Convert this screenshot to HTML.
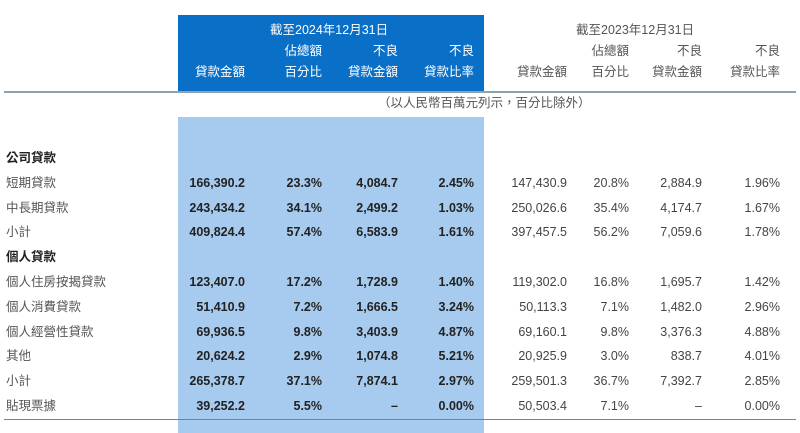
<!DOCTYPE html>
<html><head><meta charset="utf-8"><style>
body{margin:0;width:800px;height:433px;overflow:hidden;background:#fff;font-family:"Liberation Sans","Noto Sans CJK TC",sans-serif;position:relative;color:#333}
.abs{position:absolute;white-space:nowrap;font-size:12.5px;line-height:14px}
.r{text-align:right}
.b{font-weight:bold;color:#222}
</style></head><body>
<div style="position:absolute;left:178px;top:15px;width:306px;height:77px;background:#0a6fc6"></div>
<div style="position:absolute;left:178px;top:117px;width:306px;height:316px;background:#a7cbee"></div>
<div style="position:absolute;left:4px;top:91px;width:792px;height:2px;background:#8fa2ad"></div>
<div style="position:absolute;left:4px;top:419px;width:792px;height:1px;background:#6d8594"></div>
<div id="t"></div>
<script>
const rowLabels=["公司貸款","短期貸款","中長期貸款","小計","個人貸款","個人住房按揭貸款","個人消費貸款","個人經營性貸款","其他","小計","貼現票據"];
const amt2024=["","166,390.2","243,434.2","409,824.4","","123,407.0","51,410.9","69,936.5","20,624.2","265,378.7","39,252.2"];
const pct2024=["","23.3%","34.1%","57.4%","","17.2%","7.2%","9.8%","2.9%","37.1%","5.5%"];
const npl2024=["","4,084.7","2,499.2","6,583.9","","1,728.9","1,666.5","3,403.9","1,074.8","7,874.1","–"];
const rat2024=["","2.45%","1.03%","1.61%","","1.40%","3.24%","4.87%","5.21%","2.97%","0.00%"];
const amt2023=["","147,430.9","250,026.6","397,457.5","","119,302.0","50,113.3","69,160.1","20,925.9","259,501.3","50,503.4"];
const pct2023=["","20.8%","35.4%","56.2%","","16.8%","7.1%","9.8%","3.0%","36.7%","7.1%"];
const npl2023=["","2,884.9","4,174.7","7,059.6","","1,695.7","1,482.0","3,376.3","838.7","7,392.7","–"];
const rat2023=["","1.96%","1.67%","1.78%","","1.42%","2.96%","4.88%","4.01%","2.85%","0.00%"];
const t=document.getElementById('t');
function add(txt,x,y,cls,color,right,name){
 const d=document.createElement('div');
 d.className='abs '+cls;
 d.textContent=txt;
 if(right){d.style.right=(800-x)+'px';}else{d.style.left=x+'px';}
 d.style.top=y+'px';
 if(color)d.style.color=color;
 
 
 t.appendChild(d);
}
// headers
add("截至2024年12月31日",270,23,'','#fff',false,'header-2024');
add("截至2023年12月31日",576,23,'','#555',false,'header-2023');
const h1=["","佔總額","不良","不良"],h2=["貸款金額","百分比","貸款金額","貸款比率"];
const hx=[245,322,398,474],hx2=[567,629,702,780];
for(let i=0;i<4;i++){
 if(h1[i]){add(h1[i],hx[i],44,'','#fff',true,'col-header');add(h1[i],hx2[i],44,'','#555',true,'col-header');}
 add(h2[i],hx[i],65,'','#fff',true,'col-header');add(h2[i],hx2[i],65,'','#555',true,'col-header');
}
add("（以人民幣百萬元列示，百分比除外）",378,96,'','#555',false,'unit-note');
for(let i=0;i<rowLabels.length;i++){
 const y=151+i*24.8;
 const head=(i===0||i===4);
 add(rowLabels[i],6,y,head?'b':'',head?'#222':'#555',false,'row-label');
 const c1=[amt2024,pct2024,npl2024,rat2024],c2=[amt2023,pct2023,npl2023,rat2023];
 for(let j=0;j<4;j++){
  if(c1[j][i])add(c1[j][i],hx[j],y,'b',null,true,'cell-2024');
  if(c2[j][i])add(c2[j][i],hx2[j],y,'','#444',true,'cell-2023');
 }
}
</script>
</body></html>
